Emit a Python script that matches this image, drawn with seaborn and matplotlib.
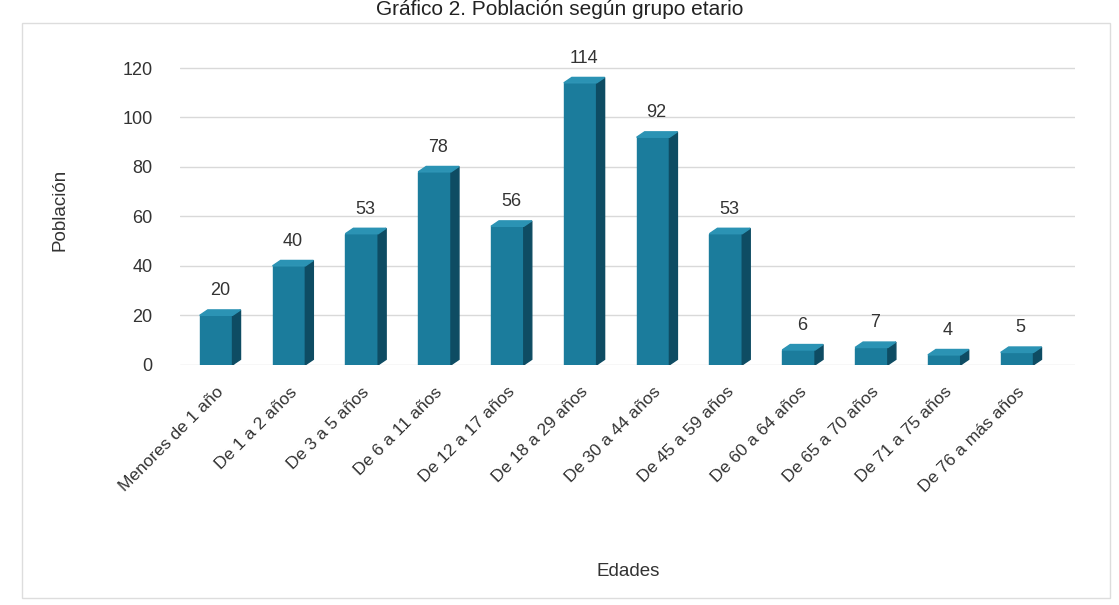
import matplotlib
matplotlib.use("Agg")
import matplotlib.pyplot as plt
import seaborn as sns
import pandas as pd
from matplotlib.patches import Polygon, Rectangle

categorias = ["Menores de 1 año", "De 1 a 2 años", "De 3 a 5 años", "De 6 a 11 años",
              "De 12 a 17 años", "De 18 a 29 años", "De 30 a 44 años", "De 45 a 59 años",
              "De 60 a 64 años", "De 65 a 70 años", "De 71 a 75 años", "De 76 a más años"]
poblacion = [20, 40, 53, 78, 56, 114, 92, 53, 6, 7, 4, 5]
yticks = [0, 20, 40, 60, 80, 100, 120]

sns.set_theme(style="white")
plt.rcParams['font.family'] = ['Liberation Sans', 'DejaVu Sans']

df = pd.DataFrame({"Edades": categorias, "Población": poblacion})

fig = plt.figure(figsize=(11.19, 6.05), dpi=100)
fig.patches.append(Rectangle((0.02, 0.012), 0.972, 0.95, transform=fig.transFigure,
                             fill=False, edgecolor="#dddddd", linewidth=1.0))
ax = fig.add_axes([0.161, 0.397, 0.80, 0.511])

front = "#1b7c9c"
side = "#0e4c63"
top = "#2b93b4"
sns.barplot(data=df, x="Edades", y="Población", color=front, width=0.45,
            saturation=1, ax=ax, zorder=3, edgecolor=front)

ax.set_ylim(0, 125)
ax.set_xlim(-0.494, 11.80)
ax.set_yticks(yticks)
ax.yaxis.grid(True, color="#d9d9d9", linewidth=1.0, zorder=0)
ax.set_axisbelow(True)
for s in ax.spines.values():
    s.set_visible(False)

# pseudo-3D depth derived from the bar patches
dx = 0.11
dy = 2.2
for p in list(ax.patches):
    x0 = p.get_x()
    w = p.get_width()
    h = p.get_height()
    x1 = x0 + w
    ax.add_patch(Polygon([(x1, 0), (x1 + dx, dy), (x1 + dx, h + dy), (x1, h)],
                         closed=True, facecolor=side, edgecolor=side, zorder=3))
    ax.add_patch(Polygon([(x0, h), (x0 + dx, h + dy), (x1 + dx, h + dy), (x1, h)],
                         closed=True, facecolor=top, edgecolor=top, zorder=3))

for i, v in enumerate(poblacion):
    ax.text(i + 0.05, v + 6.5, str(v), ha="center", va="bottom", fontsize=13, color="#333333")

ax.tick_params(axis="y", labelsize=13, labelcolor="#333333", length=0, pad=20)
ax.tick_params(axis="x", labelsize=12.5, labelcolor="#333333", length=0, pad=14)
plt.setp(ax.get_xticklabels(), rotation=45, ha="right", rotation_mode="anchor")
ax.set_xlabel("Edades", fontsize=13.5, color="#333333")
ax.set_ylabel("Población", fontsize=13.5, color="#333333")
ax.xaxis.set_label_coords(0.5, -0.64)
ax.yaxis.set_label_coords(-0.125, 0.5)

fig.text(0.5, 1.0, "Gráfico 2. Población según grupo etario", ha="center", va="top",
         fontsize=15, color="#222222")

fig.savefig("out.png", dpi=100, facecolor="white")
